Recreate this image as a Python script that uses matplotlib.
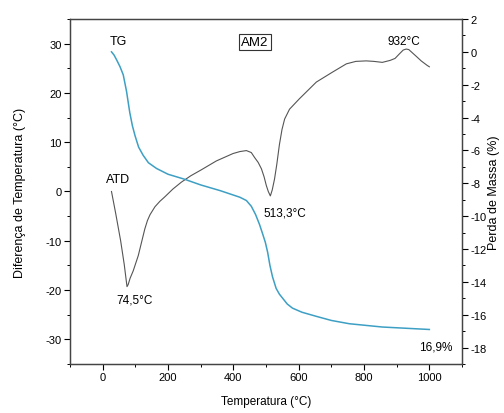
import matplotlib
matplotlib.use("Agg")
import matplotlib.pyplot as plt
from matplotlib.ticker import MultipleLocator

plt.rcParams['font.family'] = ['Liberation Sans', 'DejaVu Sans']
plt.rcParams['axes.unicode_minus'] = False

# ATD curve (left axis, Diferença de Temperatura)
atd_t = [27, 40, 55, 66, 72, 74.5, 78, 84, 93.5, 109, 119, 129, 137, 145, 160, 175,
         190, 215, 241, 270, 302, 348, 399, 420, 440, 455, 465, 476, 486, 494, 501,
         507, 513.3, 519, 526, 533, 541, 549, 557, 572, 602, 654, 703, 746, 775, 807,
         830, 856, 880, 895, 908, 920, 929, 937, 947, 962, 975, 985, 993, 1000]
atd_v = [0, -4.5, -10, -14.8, -18.0, -19.3, -18.9, -17.6, -16.1, -13.0, -10.3, -7.6,
         -5.9, -4.7, -3.1, -2.0, -1.1, 0.5, 1.9, 3.2, 4.4, 6.2, 7.7, 8.1, 8.3, 7.9,
         6.9, 5.9, 4.6, 3.0, 1.2, 0.0, -0.9, 0.3, 2.5, 5.5, 9.5, 12.6, 14.7, 16.7,
         18.8, 22.2, 24.2, 25.9, 26.4, 26.5, 26.4, 26.2, 26.6, 27.0, 27.9, 28.7,
         28.9, 28.8, 28.2, 27.3, 26.5, 26.0, 25.6, 25.3]

# TG curve (right axis, Perda de Massa)
tg_t = [27, 35, 43, 53, 63, 73, 83, 91, 99, 110, 124, 140, 165, 200, 250, 300, 360,
        420, 440, 455, 468, 480, 490, 498, 505, 512, 520, 531, 541, 551, 565, 581,
        610, 654, 700, 755, 856, 1000]
tg_v = [0, -0.2, -0.5, -0.9, -1.4, -2.4, -3.7, -4.5, -5.1, -5.8, -6.3, -6.75, -7.1,
        -7.45, -7.75, -8.1, -8.45, -8.85, -9.05, -9.4, -9.9, -10.5, -11.1, -11.6,
        -12.2, -13.0, -13.7, -14.4, -14.75, -15.0, -15.35, -15.6, -15.85, -16.1,
        -16.35, -16.55, -16.75, -16.9]

fig = plt.figure(figsize=(5.04, 4.14), dpi=100)
ax = fig.add_axes([0.1389, 0.1184, 0.7778, 0.8333])
ax2 = ax.twinx()

ax.plot(atd_t, atd_v, color='#555555', lw=0.8)
ax2.plot(tg_t, tg_v, color='#3d9fc4', lw=1.1)

ax.set_xlim(-100, 1100)
ax.set_ylim(-35, 35)
ax2.set_ylim(-19, 2)

ax.xaxis.set_major_locator(MultipleLocator(200))
ax.xaxis.set_minor_locator(MultipleLocator(100))
ax.yaxis.set_major_locator(MultipleLocator(10))
ax.yaxis.set_minor_locator(MultipleLocator(5))
ax2.yaxis.set_major_locator(MultipleLocator(2))
ax2.yaxis.set_minor_locator(MultipleLocator(1))

for a in (ax, ax2):
    a.tick_params(which='major', length=4, width=0.8, labelsize=8, direction='out', pad=2)
    a.tick_params(which='minor', length=2, width=0.7, direction='out')
    for s in a.spines.values():
        s.set_color('#444444')
        s.set_linewidth(0.9)

ax.set_xlabel('Temperatura (°C)', fontsize=8.5, labelpad=9)
ax.set_ylabel('Diferença de Temperatura (°C)', fontsize=9, labelpad=14)
ax2.set_ylabel('Perda de Massa (%)', fontsize=9, labelpad=1)

ax.text(47, 30.5, 'TG', ha='center', va='center', fontsize=9)
ax.text(47, 2.5, 'ATD', ha='center', va='center', fontsize=9)
ax.text(99, -22, '74,5°C', ha='center', va='center', fontsize=8.5)
ax.text(557, -4.3, '513,3°C', ha='center', va='center', fontsize=8.5)
ax.text(923, 30.5, '932°C', ha='center', va='center', fontsize=8.5)
ax.text(1070, -31.5, '16,9%', ha='right', va='center', fontsize=8.5)
ax.text(466, 30.4, 'AM2', ha='center', va='center', fontsize=9.5,
        bbox=dict(boxstyle='square,pad=0.15', fc='white', ec='#333333', lw=0.8))

fig.savefig('out.png', dpi=100)
